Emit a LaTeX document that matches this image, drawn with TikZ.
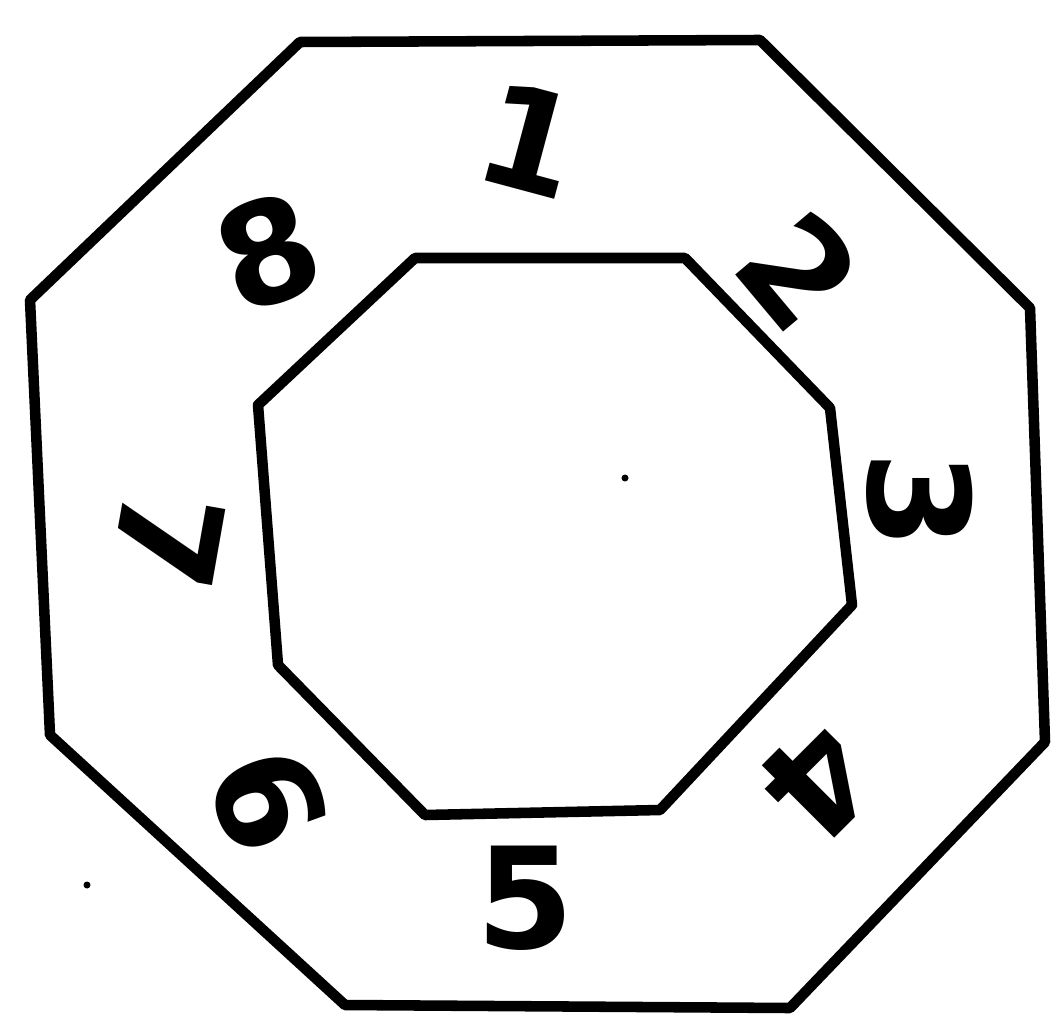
\documentclass[tikz,border=0pt]{standalone}
\usepackage{fontspec}
\newfontfamily\handfont{DejaVu Sans}
\begin{document}
\begin{tikzpicture}[x=0.02cm,y=0.02cm,
  edge/.style={line width=6pt,line join=round,line cap=round},
  lbl/.style={font=\handfont\bfseries\fontsize{80}{80}\selectfont,inner sep=0pt}]
\useasboundingbox (0,-1023) rectangle (1053,0);
% outer octagon
\coordinate (o1) at (300,-42);
\coordinate (o2) at (760,-40);
\coordinate (o3) at (1030,-308);
\coordinate (o4) at (1045,-742);
\coordinate (o5) at (790,-1008);
\coordinate (o6) at (345,-1005);
\coordinate (o7) at (50,-735);
\coordinate (o8) at (30,-300);
\draw[edge] (o1)--(o2)--(o3)--(o4)--(o5)--(o6)--(o7)--(o8)--cycle;
% inner octagon
\coordinate (i1) at (415,-258);
\coordinate (i2) at (685,-258);
\coordinate (i3) at (830,-408);
\coordinate (i4) at (852,-605);
\coordinate (i5) at (660,-810);
\coordinate (i6) at (425,-815);
\coordinate (i7) at (278,-665);
\coordinate (i8) at (258,-405);
\draw[edge] (i1)--(i2)--(i3)--(i4)--(i5)--(i6)--(i7)--(i8)--cycle;
% labels
\node[lbl,rotate=-15] (n1) at (530,-140) {1};
\node[lbl,rotate=-50] (n2) at (800,-270) {2};
\node[lbl,rotate=-90] (n3) at (920,-500) {3};
\node[lbl,rotate=-135] (n4) at (818,-782) {4};
\node[lbl] (n5) at (525,-898) {5};
\node[lbl,rotate=-70] (n6) at (268,-800) {6};
\node[lbl,rotate=-100] (n7) at (168,-540) {7};
\node[lbl,rotate=20] (n8) at (268,-252) {8};
% specks
\fill (625,-478) circle (3.5);
\fill (87,-885) circle (3.5);
\end{tikzpicture}
\end{document}
